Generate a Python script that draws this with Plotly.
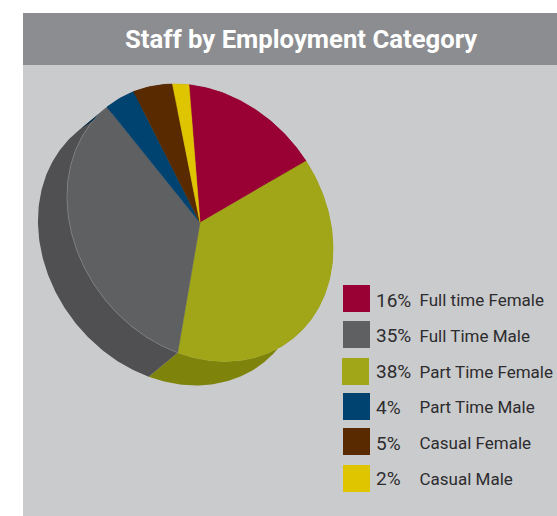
import numpy as np
import plotly.graph_objects as go

# Staff mix, in legend order
categories = ["Full time Female", "Full Time Male", "Part Time Female",
              "Part Time Male", "Casual Female", "Casual Male"]
percentages = [16, 35, 38, 4, 5, 2]
top_colors = ["#990033", "#5f6062", "#a0a617", "#004370", "#592a00", "#dfc500"]
side_colors = ["#6b0024", "#505052", "#7e830c", "#002f4e", "#3e1d00", "#9c8a00"]

# Wedges run clockwise around the disc in this sequence
slice_order = [0, 2, 1, 3, 4, 5]

# Page-pixel axes; the disc is a tilted ellipse with a slanted extrusion
W, H = 557, 516
CENTER = np.array([200.0, 222.7])
AXIS_A = np.array([-11.0, -138.0])
AXIS_B = np.array([132.6, 14.6])
DEPTH = np.array([-29.0, 24.0])
SANS = "Roboto, Liberation Sans, Arial, sans-serif"


def rim(start, end):
    """Points on the disc edge between two cumulative fractions."""
    steps = max(int((end - start) * 400), 4)
    t = np.linspace(start, end, steps) * 2 * np.pi
    return CENTER + np.outer(np.cos(t), AXIS_A) + np.outer(np.sin(t), AXIS_B)


fig = go.Figure()
total = sum(percentages)
bounds = np.cumsum([0] + [percentages[i] for i in slice_order]) / total

# Side walls go down first so the top faces cover them
for n, i in enumerate(slice_order):
    arc = rim(bounds[n], bounds[n + 1])
    wall = np.vstack([arc, arc[::-1] + DEPTH, arc[:1]])
    fig.add_trace(go.Scatter(x=wall[:, 0], y=wall[:, 1], mode="lines", fill="toself",
                             fillcolor=side_colors[i], line=dict(width=0),
                             hoverinfo="skip", showlegend=False))

# Top faces
for n, i in enumerate(slice_order):
    arc = rim(bounds[n], bounds[n + 1])
    face = np.vstack([CENTER, arc, CENTER])
    fig.add_trace(go.Scatter(x=face[:, 0], y=face[:, 1], mode="lines", fill="toself",
                             fillcolor=top_colors[i],
                             line=dict(width=0.5, color=top_colors[i]),
                             name=categories[i], hoverinfo="name", showlegend=False))

# Thin highlight along the rim of the grey face
gray_pos = slice_order.index(1)
edge = rim(bounds[gray_pos], bounds[gray_pos + 1])
fig.add_trace(go.Scatter(x=edge[:, 0], y=edge[:, 1], mode="lines",
                         line=dict(width=0.5, color="#8f9092"),
                         hoverinfo="skip", showlegend=False))

# Hand-set key: swatch, percentage, category
swatch_y = [298.5, 334.5, 371.5, 406.5, 441.5, 478.5]
swatch_x = [356.5, 356.5, 355.5, 356.5, 356.5, 356.5]
text_y = [302, 337.5, 373.5, 409, 445, 480.5]
fig.add_trace(go.Scatter(x=swatch_x, y=swatch_y, mode="markers",
                         marker=dict(symbol="square", size=27, color=top_colors,
                                     line=dict(width=0)),
                         hoverinfo="skip", showlegend=False))
fig.add_trace(go.Scatter(x=[376] * 6, y=text_y, mode="text",
                         text=[f"{p}%" for p in percentages], textposition="middle right",
                         textfont=dict(family=SANS, size=19, color="#2d2c2e"),
                         hoverinfo="skip", showlegend=False))
fig.add_trace(go.Scatter(x=[419.5] * 6, y=text_y, mode="text",
                         text=categories, textposition="middle right",
                         textfont=dict(family=SANS, size=17, color="#2d2c2e"),
                         hoverinfo="skip", showlegend=False))

fig.update_layout(
    width=W, height=H, margin=dict(l=0, r=0, t=0, b=0),
    paper_bgcolor="#ffffff", plot_bgcolor="#ffffff",
    xaxis=dict(range=[0, W], visible=False, fixedrange=True),
    yaxis=dict(range=[H, 0], visible=False, fixedrange=True),
    shapes=[
        dict(type="rect", layer="below", x0=23, x1=W, y0=13, y1=H,
             fillcolor="#cacbcd", line_width=0),
        dict(type="rect", layer="below", x0=23, x1=W, y0=13, y1=65,
             fillcolor="#8c8d90", line_width=0),
    ],
    annotations=[dict(text="<b>Staff by Employment Category</b>", x=301, y=39,
                      xref="x", yref="y", showarrow=False,
                      font=dict(family=SANS, size=25.7, color="#ffffff"))],
)

fig.write_html("out.html", config=dict(displayModeBar=False))
